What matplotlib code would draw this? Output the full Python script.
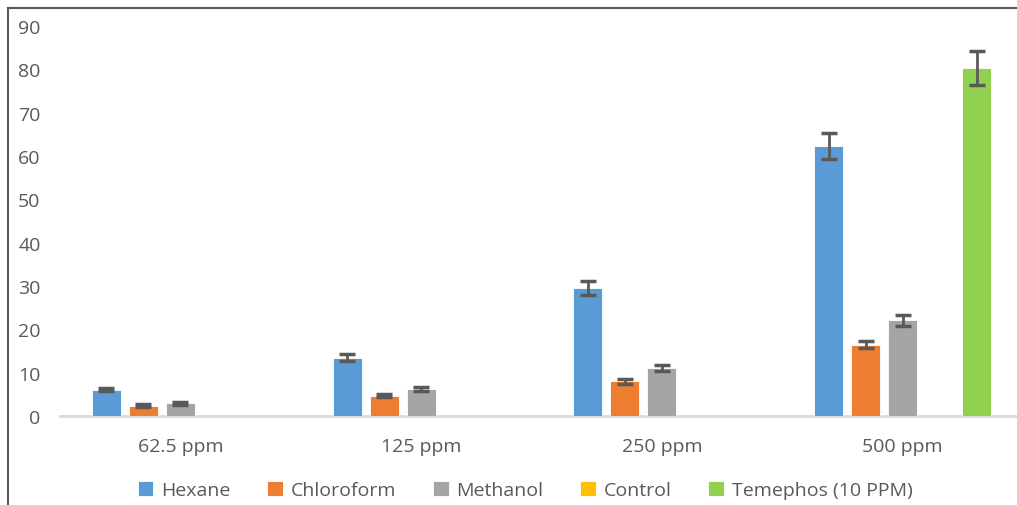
import numpy as np
import matplotlib
matplotlib.use("Agg")
import matplotlib.pyplot as plt
from matplotlib.lines import Line2D

plt.rcParams['font.family'] = ['Open Sans', 'DejaVu Sans']

categories = ["62.5 ppm", "125 ppm", "250 ppm", "500 ppm"]
series = ["Hexane", "Chloroform", "Methanol", "Control", "Temephos (10 PPM)"]
colors = ["#5B9BD5", "#ED7D31", "#A5A5A5", "#FFC000", "#92D050"]

hexane = [6.1, 13.5, 29.5, 62.4]
chloroform = [2.4, 4.7, 8.0, 16.5]
methanol = [2.9, 6.2, 11.0, 22.1]
control = [0, 0, 0, 0]
temephos = [0, 0, 0, 80.3]

hexane_err = [0.4, 0.8, 1.6, 3.0]
chloroform_err = [0.3, 0.4, 0.5, 0.9]
methanol_err = [0.35, 0.4, 0.7, 1.3]
control_err = [0, 0, 0, 0]
temephos_err = [0, 0, 0, 4.0]

values = [hexane, chloroform, methanol, control, temephos]
errors = [hexane_err, chloroform_err, methanol_err, control_err, temephos_err]

W, H = 1017, 506
fig = plt.figure(figsize=(W / 100, H / 100), dpi=100)
# plot area runs a bit past the right edge (cropped screenshot)
ax = fig.add_axes([60 / W, 1 - 417 / H, 963 / W, 390 / H])

x = np.arange(len(categories))
step = 37 / 241
width = 29 / 241
for i, (vals, errs, c, name) in enumerate(zip(values, errors, colors, series)):
    pos = x + (i - 2) * step
    ax.bar(pos, vals, width, color=c, edgecolor="white", linewidth=0.6, label=name, zorder=2)
    errs = np.array(errs, dtype=float)
    m = errs > 0
    if m.any():
        ax.errorbar(pos[m], np.array(vals)[m], yerr=errs[m], fmt="none",
                    ecolor="#595959", elinewidth=2, capsize=6, capthick=2.5, zorder=3)

ax.set_xlim(-0.5, len(categories) - 0.5)
ax.set_ylim(0, 90)
ax.set_yticks(np.arange(0, 91, 10))
ax.set_xticks(x)
ax.set_xticklabels(categories)
ax.tick_params(axis="both", length=0, labelsize=14, labelcolor="#595959")
ax.tick_params(axis="y", pad=14)
ax.tick_params(axis="x", pad=15)
for s in ["top", "right", "left"]:
    ax.spines[s].set_visible(False)
ax.spines["bottom"].set_color("#D9D9D9")
ax.spines["bottom"].set_linewidth(2)
ax.spines["bottom"].set_zorder(1)

leg = fig.legend(loc="center", bbox_to_anchor=(525 / W, 1 - 491 / H), ncol=5, frameon=False,
                 fontsize=14, handlelength=0.8, handleheight=0.8, handletextpad=0.4,
                 columnspacing=1.9, labelcolor="#595959")

# chart frame (left and top edges visible)
fig.add_artist(Line2D([8 / W, 8 / W], [0, 1 - 9 / H], color="#595959", lw=1.5))
fig.add_artist(Line2D([8 / W, 1], [1 - 9 / H, 1 - 9 / H], color="#595959", lw=1.5))

fig.savefig("out.png", dpi=100)
